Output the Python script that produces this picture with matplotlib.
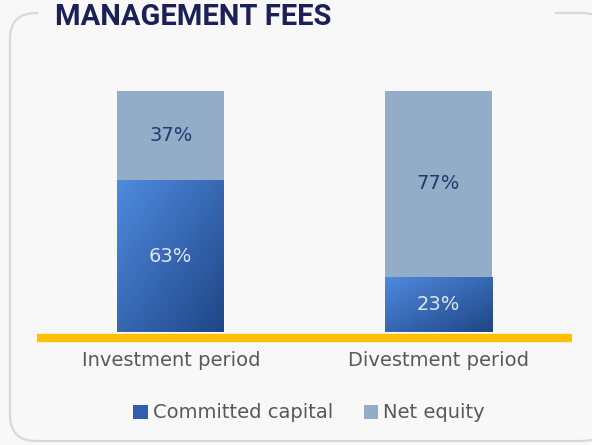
import matplotlib
matplotlib.use("Agg")
import matplotlib.pyplot as plt
import numpy as np
from matplotlib.patches import FancyBboxPatch, Rectangle, Patch
from matplotlib.colors import LinearSegmentedColormap

categories = ["Investment period", "Divestment period"]
committed = [63, 23]
net_equity = [37, 77]
series_names = ["Committed capital", "Net equity"]
title = "MANAGEMENT FEES"

W, H = 592, 445
bg = "#f8f8f8"
fig = plt.figure(figsize=(W / 100, H / 100), dpi=100, facecolor=bg)

# frame overlay
ov = fig.add_axes([0, 0, 1, 1], zorder=0)
ov.set_xlim(0, W)
ov.set_ylim(H, 0)
ov.axis("off")
box = FancyBboxPatch((10, 13), 598, 428, boxstyle="round,pad=0,rounding_size=26",
                     fc=bg, ec="#d9d9d9", lw=1.6)
ov.add_patch(box)
ov.add_patch(Rectangle((38, 5), 517, 16, fc=bg, ec="none"))
ov.text(55, 17, title, fontsize=21, fontweight="bold", color="#1b2157",
        family=["Roboto", "DejaVu Sans"], va="center", ha="left")

# main axes: x from 37..572 px, y from 332 (bottom) to 91 (top = 100%)
left = 37 / W
width = (572 - 37) / W
bottom = 1 - 332 / H
height = (332 - 91) / H
ax = fig.add_axes([left, bottom, width, height], zorder=1)
ax.set_facecolor("none")
x = np.arange(len(categories))
bw = 0.4
b1 = ax.bar(x, committed, bw, color="#3a6fc0", label=series_names[0], zorder=2)
b2 = ax.bar(x, net_equity, bw, bottom=committed, color="#93adc9",
            label=series_names[1], zorder=2)

cmap = LinearSegmentedColormap.from_list("g", ["#4f8ade", "#1f4687"])
grad = np.add.outer(np.linspace(0, 1, 50), np.linspace(0, 1, 50)) / 2
for r in b1:
    r.set_facecolor("none")
    xx, yy = r.get_x(), r.get_y()
    w, h = r.get_width(), r.get_height()
    im = ax.imshow(grad, cmap=cmap, extent=[xx, xx + w, yy, yy + h], origin="upper",
                   aspect="auto", zorder=2, interpolation="bilinear")
    im.set_clip_path(r)
ax.set_aspect("auto")
ax.set_xlim(-0.5, 1.5)
ax.set_ylim(0, 100)

for i in range(len(categories)):
    ax.text(x[i], committed[i] / 2, f"{committed[i]}%", ha="center", va="center",
            fontsize=14, color="#dfe5ef", zorder=3)
    ax.text(x[i], committed[i] + net_equity[i] / 2, f"{net_equity[i]}%", ha="center",
            va="center", fontsize=14, color="#1f3a6e", zorder=3)

for s in ["top", "right", "left"]:
    ax.spines[s].set_visible(False)
ax.spines["bottom"].set_color("#ffc000")
ax.spines["bottom"].set_linewidth(6)
ax.spines["bottom"].set_capstyle("butt")
ax.spines["bottom"].set_position(("outward", 4))
ax.set_yticks([])
ax.set_xticks(x)
ax.set_xticklabels(categories, fontsize=14, color="#595959")
ax.tick_params(axis="x", length=0, pad=10)

handles = [Patch(facecolor="#2f5fae", edgecolor="none"), Patch(facecolor="#93adc9", edgecolor="none")]
leg = fig.legend(handles, series_names, loc="center", bbox_to_anchor=(309 / W, 1 - 413 / H),
                 ncol=2, frameon=False, handlelength=0.75, handleheight=0.75,
                 handletextpad=0.25, columnspacing=1.6, prop={"size": 14})
for t in leg.get_texts():
    t.set_color("#595959")

fig.savefig("out.png", dpi=100, facecolor=bg)
